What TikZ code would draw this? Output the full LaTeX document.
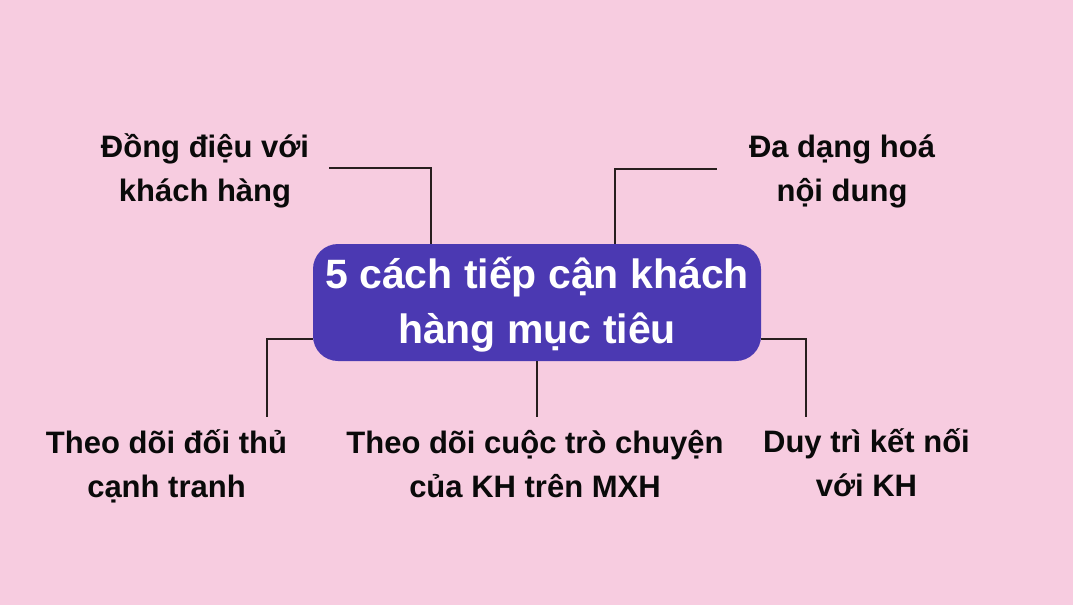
\documentclass[tikz,border=0pt]{standalone}
\usepackage{fontspec}
\setmainfont{Liberation Sans}
\definecolor{bgpink}{RGB}{247,204,224}
\definecolor{hubfill}{RGB}{75,57,178}
\definecolor{linecol}{RGB}{40,30,30}
\definecolor{txtcol}{RGB}{10,10,10}
\tikzset{
  hubbox/.style={draw=none, fill=hubfill, rounded corners=25pt, minimum width=448pt, minimum height=117pt, inner sep=0pt},
  titletext/.style={text=white, font=\fontsize{41}{55}\selectfont\bfseries, align=center, inner sep=0pt, anchor=base},
  leaf/.style={text=txtcol, font=\fontsize{31}{44}\selectfont\bfseries, align=center, inner sep=0pt, anchor=base},
  conn/.style={draw=linecol, line width=2.2pt}
}
\begin{document}
\begin{tikzpicture}[x=1pt,y=-1pt]
\fill[bgpink] (0,0) rectangle (1073,605);
\useasboundingbox (0,0) rectangle (1073,605);
\node[hubbox] (hub) at (537,302.5) {};
\node[titletext] (title) at (537,343) {5 cách tiếp cận khách\\hàng mục tiêu};
\node[leaf] (l1) at (205,201) {Đồng điệu với\\khách hàng};
\node[leaf] (l2) at (842,201) {Đa dạng hoá\\nội dung};
\node[leaf] (l3) at (166.5,497) {Theo dõi đối thủ\\cạnh tranh};
\node[leaf] (l4) at (535,497) {Theo dõi cuộc trò chuyện\\của KH trên MXH};
\node[leaf] (l5) at (866.5,496) {Duy trì kết nối\\với KH};
\coordinate (e1) at (329,168);
\coordinate (e2) at (717,169);
\coordinate (e3) at (267,417);
\coordinate (e4) at (537,417);
\coordinate (e5) at (806,417);
\draw[conn] ([xshift=-106pt]hub.north) |- (e1);
\draw[conn] ([xshift=78pt]hub.north) |- (e2);
\draw[conn] ([yshift=-36.5pt]hub.west) -| (e3);
\draw[conn] (hub.south) -- (e4);
\draw[conn] ([yshift=-36.5pt]hub.east) -| (e5);
\end{tikzpicture}
\end{document}
